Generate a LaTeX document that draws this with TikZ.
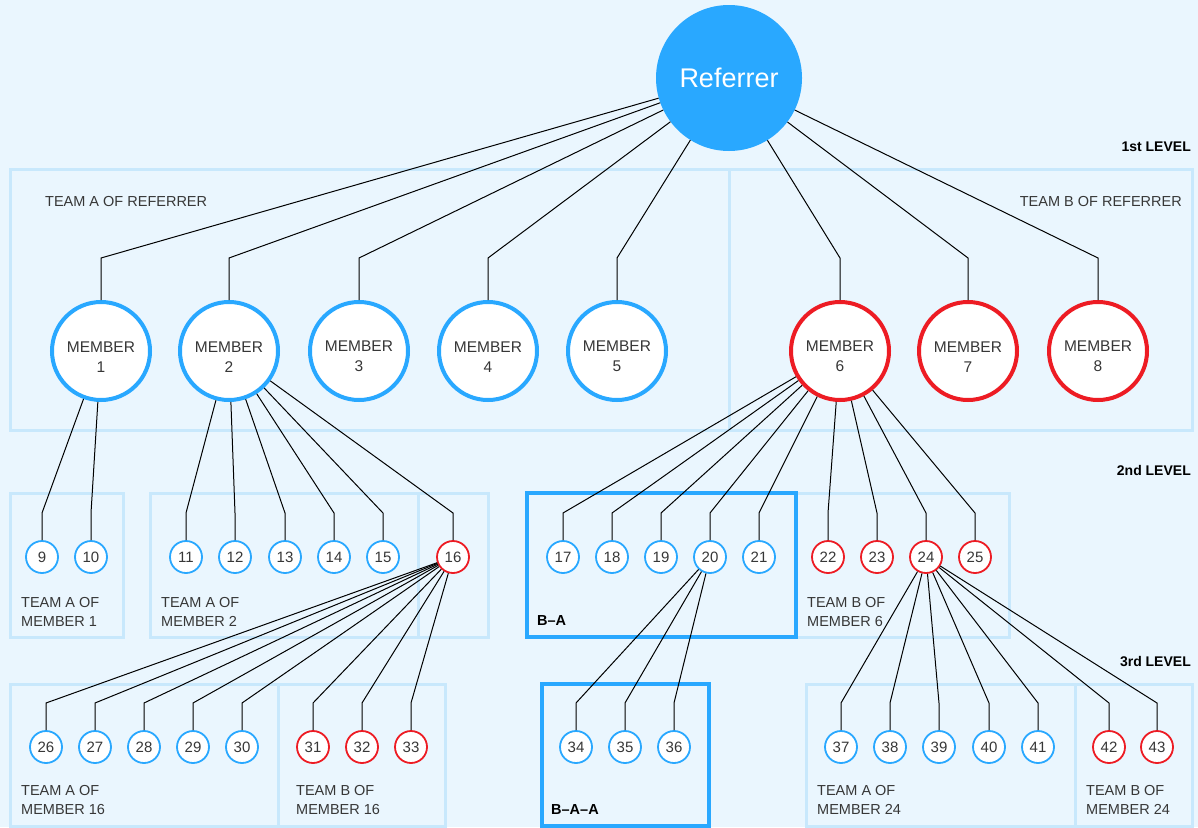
\documentclass[tikz,border=0pt]{standalone}
\usepackage{fontspec}
\setmainfont{Liberation Sans}

\definecolor{bgblue}{RGB}{234,246,254}
\definecolor{boxblue}{RGB}{200,232,252}
\definecolor{cblue}{RGB}{41,168,255}
\definecolor{cred}{RGB}{237,28,36}
\definecolor{txtgray}{RGB}{55,55,55}

\begin{document}
\begin{tikzpicture}[x=1pt, y=-1pt]
	\tikzset {every node/.style={text=txtgray}, teambox/.style={draw=boxblue, line width=3pt}, subbox/.style={draw=cblue, line width=3.5pt},
		link/.style={line width=1pt},
		referrer/.style={circle, fill=cblue, minimum size=146pt, inner sep=0pt, text=white, font=\fontsize{27}{30}\selectfont},
		member/.style={circle, draw=cblue, line width=4pt, fill=white, minimum size=98pt, inner sep=0pt, align=center, font=\fontsize{15.5}{20}\selectfont},
		small/.style={circle, draw=cblue, line width=1.8pt, fill=white, minimum size=32pt, inner sep=0pt, font=\fontsize{15}{16}\selectfont},
		teamb/.style={draw=cred},
		team/.style={anchor=west, inner sep=0pt, align=left, font=\fontsize{14.5}{19}\selectfont},
		level/.style={anchor=east, inner sep=0pt, text=black, font=\bfseries\fontsize{14}{16}\selectfont},
		sub/.style={anchor=west, inner sep=0pt, text=black, font=\bfseries\fontsize{14.5}{16}\selectfont} }

	\fill[bgblue] (0,0) rectangle (1198,827);
	\useasboundingbox (0,0) rectangle (1198,827);

	% team boxes
	\draw[teambox] (10,169) rectangle (729,430);
	\draw[teambox] (729,169) rectangle (1192,430);
	\draw[teambox] (10,493) rectangle (123,637);
	\draw[teambox] (150,493) rectangle (418,637);
	\draw[teambox] (418,493) rectangle (488,637);
	\draw[teambox] (796,493) rectangle (1009,637);
	\draw[subbox] (527,493) rectangle (796,637);
	\draw[teambox] (10,684) rectangle (278,826);
	\draw[teambox] (278,684) rectangle (445,826);
	\draw[teambox] (806,684) rectangle (1075,826);
	\draw[teambox] (1075,684) rectangle (1192,826);
	\draw[subbox] (542,684) rectangle (709,826);

	\node[level] (l1) at (1191,147) {1st LEVEL};
	\node[level] (l2) at (1191,470) {2nd LEVEL};
	\node[level] (l3) at (1191,661) {3rd LEVEL};

	\node[team] (ta0) at (45,202) {TEAM A OF REFERRER};
	\node[team, anchor=east] (tb0) at (1182,202) {TEAM B OF REFERRER};
	\node[team] (ta1) at (21,612) {TEAM A OF\\MEMBER 1};
	\node[team] (ta2) at (161,612) {TEAM A OF\\MEMBER 2};
	\node[team] (tb6) at (807,612) {TEAM B OF\\MEMBER 6};
	\node[team] (ta16) at (21,800) {TEAM A OF\\MEMBER 16};
	\node[team] (tb16) at (296,800) {TEAM B OF\\MEMBER 16};
	\node[team] (ta24) at (817,800) {TEAM A OF\\MEMBER 24};
	\node[team] (tb24) at (1086,800) {TEAM B OF\\MEMBER 24};
	\node[sub] (ba) at (537,621) {B--A};
	\node[sub] (baa) at (551,809) {B--A--A};

	\coordinate (row1) at (0,258);
	\coordinate (row2) at (0,513);
	\coordinate (row3) at (0,703);

	\node[referrer] (r) at (729,78) {Referrer};
	\foreach \i/\x in {1/101, 2/229, 3/359, 4/488, 5/617}
		\node[member] (\i) at (\x,351) {\rule{0pt}{22pt}MEMBER\\\i};
	\foreach \i/\x in {6/840, 7/968, 8/1098}
		\node[member, teamb] (\i) at (\x,351) {\rule{0pt}{22pt}MEMBER\\\i};
	\foreach \i/\x in {9/42, 10/91, 11/186, 12/235, 13/285, 14/334, 15/383, 17/563, 18/612, 19/661, 20/710, 21/759}
		\node[small] (\i) at (\x,557) {\i};
	\foreach \i/\x in {16/453, 22/828, 23/877, 24/926, 25/975}
		\node[small, teamb] (\i) at (\x,557) {\i};
	\foreach \i/\x in {26/46, 27/95, 28/144, 29/193, 30/242, 34/576, 35/625, 36/674, 37/841, 38/890, 39/939, 40/989, 41/1038}
		\node[small] (\i) at (\x,747) {\i};
	\foreach \i/\x in {31/313, 32/362, 33/411, 42/1109, 43/1157}
		\node[small, teamb] (\i) at (\x,747) {\i};

	% links
	\foreach \i in {1,...,8} \draw[link] (r) -- (\i |- row1) -- (\i);
	\foreach \i in {9,10} \draw[link] (1) -- (\i |- row2) -- (\i);
	\foreach \i in {11,...,16} \draw[link] (2) -- (\i |- row2) -- (\i);
	\foreach \i in {17,...,25} \draw[link] (6) -- (\i |- row2) -- (\i);
	\foreach \i in {26,...,33} \draw[link] (16) -- (\i |- row3) -- (\i);
	\foreach \i in {34,35,36} \draw[link] (20) -- (\i |- row3) -- (\i);
	\foreach \i in {37,...,43} \draw[link] (24) -- (\i |- row3) -- (\i);
\end{tikzpicture}
\end{document}
